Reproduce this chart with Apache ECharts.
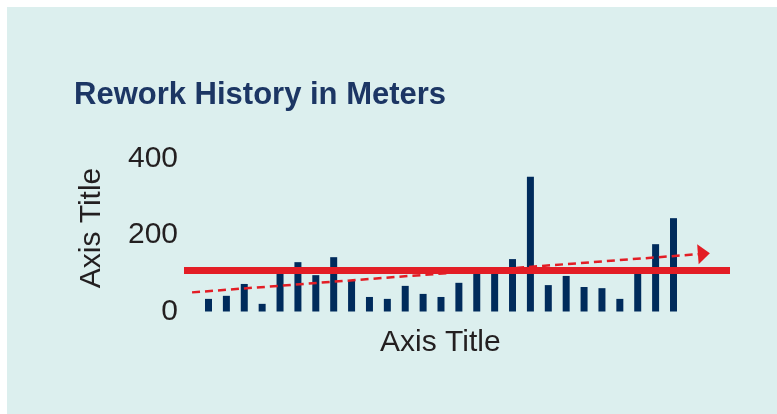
<!DOCTYPE html>
<html>
<head>
<meta charset="utf-8">
<script src="https://cdn.jsdelivr.net/npm/echarts@6/dist/echarts.min.js"></script>
<style>
html, body { margin: 0; padding: 0; background: #ffffff; }
.panel {
  position: absolute;
  left: 7px;
  top: 7px;
  width: 770px;
  height: 407px;
  background-color: #dcefee;
}
#chart {
  position: absolute;
  left: 0;
  top: 0;
  width: 777px;
  height: 414px;
}
</style>
</head>
<body>
<div class="panel"></div>
<div id="chart"></div>
<script>
// periods along the bottom (no labels shown in the picture)
var periods = [1, 2, 3, 4, 5, 6, 7, 8, 9, 10, 11, 12, 13, 14, 15, 16, 17, 18, 19, 20, 21, 22, 23, 24, 25, 26, 27];
// rework per period, in meters
var rework = [33, 41, 72, 20, 100, 129, 95, 142, 82, 38, 33, 67, 46, 38, 75, 102, 106, 137, 352, 69, 93, 64, 61, 33, 102, 176, 244];
// target level (red line)
var target = 108;
// trend line ends [period, meters]
var trendStart = [0.08, 50];
var trendEnd = [28.7, 151];
var yTicks = [0, 200, 400];

var chart = echarts.init(document.getElementById('chart'));

chart.setOption({
  backgroundColor: 'transparent',
  animation: false,
  title: [
    {
      text: 'Rework History in Meters',
      left: 74,
      top: 80,
      padding: 0,
      textStyle: {
        fontFamily: 'Liberation Sans',
        fontSize: 31,
        fontWeight: 'bold',
        color: '#1c3664'
      }
    },
    {
      text: 'Axis Title',
      left: 380,
      top: 328,
      padding: 0,
      textStyle: {
        fontFamily: 'Liberation Sans',
        fontSize: 30,
        fontWeight: 'normal',
        color: '#231f20'
      }
    }
  ],
  grid: {
    left: 184,
    right: 47,
    top: 158.5,
    bottom: 102.5
  },
  xAxis: {
    type: 'value',
    min: -0.37,
    max: 30.16,
    show: false
  },
  yAxis: {
    type: 'value',
    min: yTicks[0],
    max: yTicks[yTicks.length - 1],
    interval: yTicks[1] - yTicks[0],
    name: 'Axis Title',
    nameLocation: 'middle',
    nameGap: 77,
    nameTextStyle: {
      fontFamily: 'Liberation Sans',
      fontSize: 30,
      color: '#231f20',
      padding: [0, 0, 0, 14]
    },
    axisLine: { show: false },
    axisTick: { show: false },
    splitLine: { show: false },
    axisLabel: {
      margin: 6,
      fontFamily: 'Liberation Sans',
      fontSize: 30,
      color: '#231f20'
    }
  },
  series: [
    {
      type: 'bar',
      barWidth: 7,
      itemStyle: { color: '#002b5c' },
      data: periods.map(function (p, i) { return [p, rework[i]]; }),
      markLine: {
        silent: true,
        animation: false,
        symbol: ['none', 'none'],
        label: { show: false },
        emphasis: { disabled: true },
        data: [
          {
            yAxis: target,
            lineStyle: { color: '#e31d25', width: 7, type: 'solid' }
          },
          [
            {
              coord: trendStart,
              symbol: 'none',
              lineStyle: { color: '#e31d25', width: 2.5, type: [8, 5] }
            },
            {
              coord: trendEnd,
              symbol: 'triangle',
              symbolSize: [20, 12]
            }
          ]
        ]
      }
    }
  ]
});
</script>
</body>
</html>
